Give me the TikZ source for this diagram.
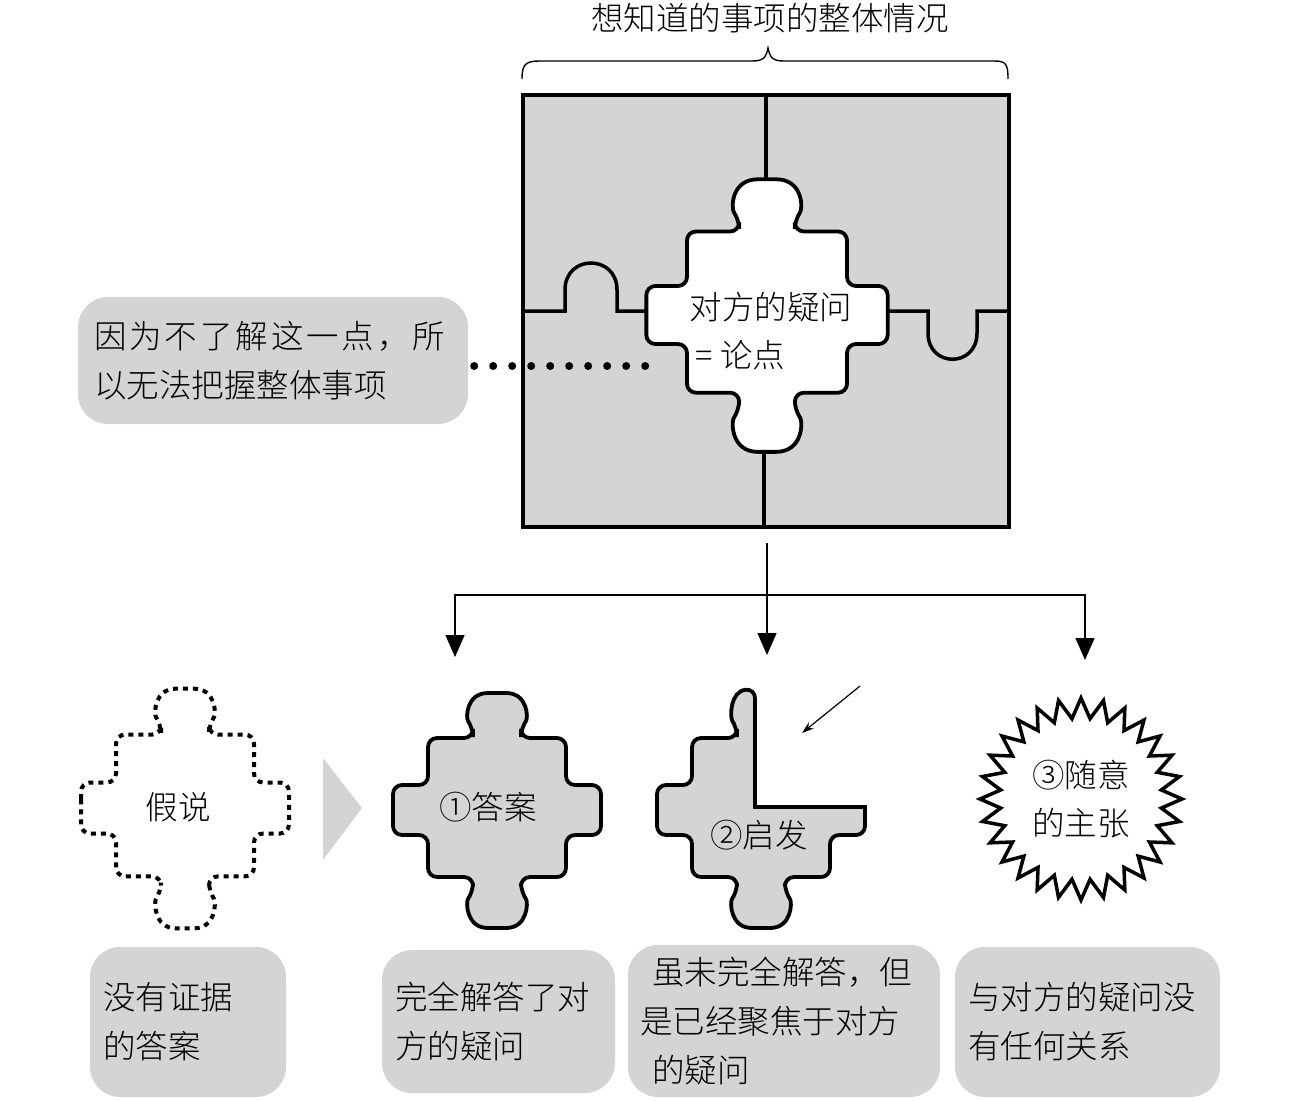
\documentclass[tikz,border=0pt]{standalone}
\usepackage{fontspec}
\newfontfamily\cjk{Noto Sans CJK SC}[UprightFont=* Light]
\usepackage{tikz}
\usetikzlibrary{shapes.geometric, arrows.meta}
\definecolor{puzzlegray}{RGB}{212,212,212}
\tikzstyle{note} = [rectangle, rounded corners=30pt, fill=puzzlegray, align=left, inner xsep=13pt, inner ysep=0pt, font=\cjk\fontsize{32.5}{49}\selectfont]
\tikzstyle{piecetext} = [font=\cjk\fontsize{32.5}{48}\selectfont, align=left]
\tikzstyle{piece} = [draw=black, line width=3.8pt, rounded corners=9pt, fill=puzzlegray]
\tikzstyle{ghost} = [draw=black, line width=4pt, rounded corners=9pt, dash pattern=on 5pt off 5pt]
\tikzstyle{edge} = [line width=3.5pt]
\tikzstyle{arrow} = [line width=1.4pt, -{Triangle[length=22pt,width=19pt]}]
\tikzstyle{dotline} = [line width=8pt, line cap=round, dash pattern=on 0pt off 19pt]
\newcommand{\crosspiece}[1]{\draw[#1] (-104,0) -- (-104,-25) -- (-69,-25) -- (-69,-72) -- (-24,-72) -- (-24,-82) .. controls (-31,-92) and (-31,-117) .. (0,-117) .. controls (31,-117) and (31,-92) .. (24,-82) -- (24,-72) -- (69,-72) -- (69,-25) -- (104,-25) -- (104,25) -- (69,25) -- (69,67) -- (24,67) -- (24,82) .. controls (31,92) and (31,118) .. (0,118) .. controls (-31,118) and (-31,92) .. (-24,82) -- (-24,67) -- (-69,67) -- (-69,25) -- (-104,25) -- cycle;}

\begin{document}
\begin{tikzpicture}[x=1pt, y=-1pt]
	\useasboundingbox (0,0) rectangle (1300,1100);
	
	% heading
	\node (whole) [piecetext] at (770,18) {想知道的事项的整体情况};
	\draw [line width=1.4pt] (522,79) .. controls (522,64) and (526,61) .. (540,61) -- (752,61) .. controls (763,61) and (766,58) .. (768,48) .. controls (770,58) and (773,61) .. (784,61) -- (994,61) .. controls (1006,61) and (1008,64) .. (1008,79);
	
	% puzzle
	\fill [puzzlegray] (523,95) rectangle (1009,527);
	\draw [edge] (766,95) -- (766,180);
	\draw [edge] (764,450) -- (764,527);
	\draw [edge] (523,311) -- (565,311) -- (565,290) .. controls (565,254) and (617,254) .. (617,290) -- (617,311) -- (650,311);
	\draw [edge] (885,311) -- (928,311) -- (928,333) .. controls (928,368) and (977,368) .. (977,333) -- (977,311) -- (1009,311);
	\draw [line width=4pt] (523,95) rectangle (1009,527);
	\begin{scope}[shift={(767,315)}, scale=1.16]
		\crosspiece{piece, fill=white}
	\end{scope}
	\node (issue) [piecetext] at (771,331) {对方的疑问\\\hspace*{6pt}= 论点};
	
	\node (callout) [note, minimum width=390pt, minimum height=127pt, text width=358pt, inner xsep=16pt] at (273,360.5) {{\addfontfeature{LetterSpace=9}因为不了解这一点，所}\\以无法把握整体事项};
	\coordinate (dotend) at (664,366);
	\draw [dotline] ([xshift=6pt,yshift=-5.5pt]callout.east) -- (dotend);
	
	% three outcomes
	\coordinate (split) at (767,543);
	\coordinate (fork) at (767,595);
	\coordinate (to1) at (455,657);
	\coordinate (to2) at (767,655);
	\coordinate (to3) at (1085,660);
	\draw [line width=1.4pt] (split) -- (fork);
	\draw [arrow] (fork) -| (to1);
	\draw [arrow] (fork) -- (to2);
	\draw [arrow] (fork) -| (to3);
	
	\begin{scope}[shift={(185,808)}, yscale=1.02]
		\crosspiece{ghost}
	\end{scope}
	\node (guess) [piecetext] at (178,807) {假说};
	\fill [puzzlegray] (323,758) -- (362,808) -- (323,860) -- cycle;
	
	\begin{scope}[shift={(497,810)}]
		\crosspiece{piece}
	\end{scope}
	\node (answer) [piecetext] at (488,807) {①答案};
	
	\begin{scope}[shift={(761,810)}]
		\draw [piece] (-104,0) -- (-104,-25) -- (-69,-25) -- (-69,-72) -- (-24,-72) -- (-24,-82) .. controls (-31,-93) and (-31,-119) .. (-6,-121) [sharp corners] -- (-6,-3) -- (104,-3) [rounded corners=9pt] -- (104,25) -- (69,25) -- (69,67) -- (24,67) -- (24,82) .. controls (31,92) and (31,118) .. (0,118) .. controls (-31,118) and (-31,92) .. (-24,82) -- (-24,67) -- (-69,67) -- (-69,25) -- (-104,25) -- cycle;
	\end{scope}
	\node (hint) [piecetext] at (759,835) {②启发};
	\coordinate (gapfrom) at (860,686);
	\coordinate (gapto) at (802,733);
	\draw [line width=1.2pt, -{Stealth[length=12pt,width=8pt]}] (gapfrom) -- (gapto);
	
	\node (claim) [star, star points=28, star point ratio=1.25, minimum size=202pt, draw, line width=3.5pt, piecetext, align=center] at (1081,799) {③随意\\的主张};
	
	% notes
	\node (n1) [note, minimum width=196pt, minimum height=150pt, text width=170pt] at (188,1022) {没有证据\\的答案};
	\node (n2) [note, minimum width=233pt, minimum height=143pt, text width=207pt] at (498.5,1021.5) {完全解答了对\\方的疑问};
	\node (n3) [note, minimum width=312pt, minimum height=152pt, text width=288pt, inner xsep=12pt] at (784,1021) {\hspace*{12pt}虽未完全解答，但\\是已经聚焦于对方\\\hspace*{12pt}的疑问};
	\node (n4) [note, minimum width=265pt, minimum height=150pt, text width=239pt] at (1087.5,1022) {与对方的疑问没\\有任何关系};
	
\end{tikzpicture}
\end{document}
